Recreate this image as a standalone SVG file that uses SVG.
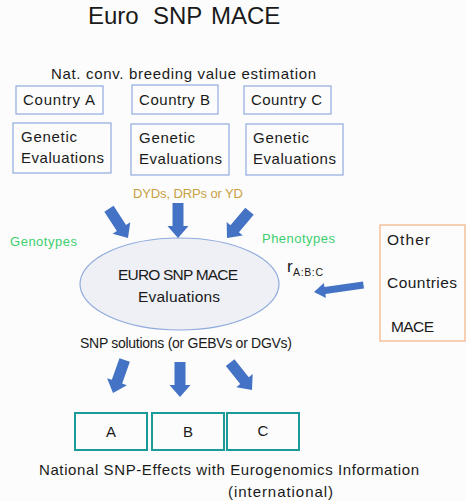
<svg xmlns="http://www.w3.org/2000/svg" width="466" height="501" viewBox="0 0 466 501">
<style>
text{font-family:"Liberation Sans",Arial,sans-serif;fill:#1a1a1a}
.box{fill:none;stroke:#8faadc;stroke-width:1.2}
.t14{font-size:14px}
.t15{font-size:15px}
.gold{fill:#c9a043;font-size:13px}
.green{fill:#3ccf6e;font-size:13px}
.teal{fill:none;stroke:#1b9a9a;stroke-width:2}
.arrow{fill:#4472c4}
</style>
<defs>
<path id="dn" d="M-5.5,-35 H5.5 V-12 H10.5 L0,0 L-10.5,-12 H-5.5 Z"/>
</defs>
<rect width="466" height="501" fill="#fcfcfc"/>
<g id="title">
<text font-size="24" y="24"><tspan x="88">Euro</tspan><tspan x="153">SNP</tspan><tspan x="211">MACE</tspan></text>
</g>
<g id="nat"><text x="51" y="79" font-size="15" textLength="265" lengthAdjust="spacing">Nat. conv. breeding value estimation</text></g>
<g id="countryA"><rect class="box" x="16" y="86" width="87" height="28"/><text class="t15" x="23" y="105" textLength="72">Country A</text></g>
<g id="countryB"><rect class="box" x="132" y="85" width="86" height="29"/><text class="t15" x="139" y="105" textLength="71">Country B</text></g>
<g id="countryC"><rect class="box" x="244" y="86" width="87" height="28"/><text class="t15" x="251" y="105" textLength="71">Country C</text></g>
<g id="genA"><rect class="box" x="13" y="123" width="98" height="50"/><text class="t15" x="21" y="142" textLength="56">Genetic</text><text class="t15" x="21" y="163" textLength="83">Evaluations</text></g>
<g id="genB"><rect class="box" x="131" y="124" width="98" height="51"/><text class="t15" x="139" y="143" textLength="56">Genetic</text><text class="t15" x="139" y="164" textLength="83">Evaluations</text></g>
<g id="genC"><rect class="box" x="246" y="124" width="97" height="51"/><text class="t15" x="253" y="143" textLength="56">Genetic</text><text class="t15" x="253" y="164" textLength="83">Evaluations</text></g>
<g id="labels">
<text class="gold" x="133" y="198" textLength="110">DYDs, DRPs or YD</text>
<text class="green" x="10" y="246" textLength="67">Genotypes</text>
<text class="green" x="262" y="243" textLength="73">Phenotypes</text>
<text x="287" y="272" font-size="17">r</text><text x="293" y="276" font-size="10.5" textLength="30">A:B:C</text>
<text class="t14" x="80" y="348" textLength="212">SNP solutions (or GEBVs or DGVs)</text>
</g>
<g id="euro">
<ellipse cx="179.5" cy="284" rx="99.5" ry="46" fill="#eef0f6" stroke="#8faadc" stroke-width="1.2"/>
<text x="178" y="280" font-size="15.5" text-anchor="middle" textLength="120">EURO SNP MACE</text>
<text x="179" y="302" font-size="15.5" text-anchor="middle" textLength="82">Evaluations</text>
</g>
<g id="other">
<rect x="380" y="225" width="85" height="116" fill="none" stroke="#f4b183" stroke-width="1.2"/>
<text x="387" y="245" font-size="15.5" textLength="43">Other</text>
<text x="387" y="288" font-size="15.5" textLength="70">Countries</text>
<text x="391" y="332" font-size="15.5" textLength="43">MACE</text>
</g>
<g id="connectors" class="arrow">
<use href="#dn" transform="translate(128,238) rotate(-33)"/>
<use href="#dn" transform="translate(178,238)"/>
<use href="#dn" transform="translate(227,238) rotate(40)"/>
<path d="M-3.5,-50 H3.5 V-11 H7.5 L0,0 L-7.5,-11 H-3.5 Z" transform="translate(314,292) rotate(82)"/>
<use href="#dn" transform="translate(113,393) rotate(19.5)"/>
<use href="#dn" transform="translate(180,397)"/>
<use href="#dn" transform="translate(252,390) rotate(-38.7)"/>
</g>
<g id="boxA"><rect class="teal" x="75" y="413" width="72" height="37"/><text class="t15" x="111" y="437" text-anchor="middle">A</text></g>
<g id="boxB"><rect class="teal" x="152" y="413" width="72" height="37"/><text class="t15" x="188" y="437" text-anchor="middle">B</text></g>
<g id="boxC"><rect class="teal" x="227" y="413" width="72" height="37"/><text class="t15" x="263" y="436" text-anchor="middle">C</text></g>
<g id="footer">
<text x="39" y="475" font-size="15" textLength="380">National SNP-Effects with Eurogenomics Information</text>
<text x="228" y="497" font-size="15" textLength="105">(international)</text>
</g>
</svg>
